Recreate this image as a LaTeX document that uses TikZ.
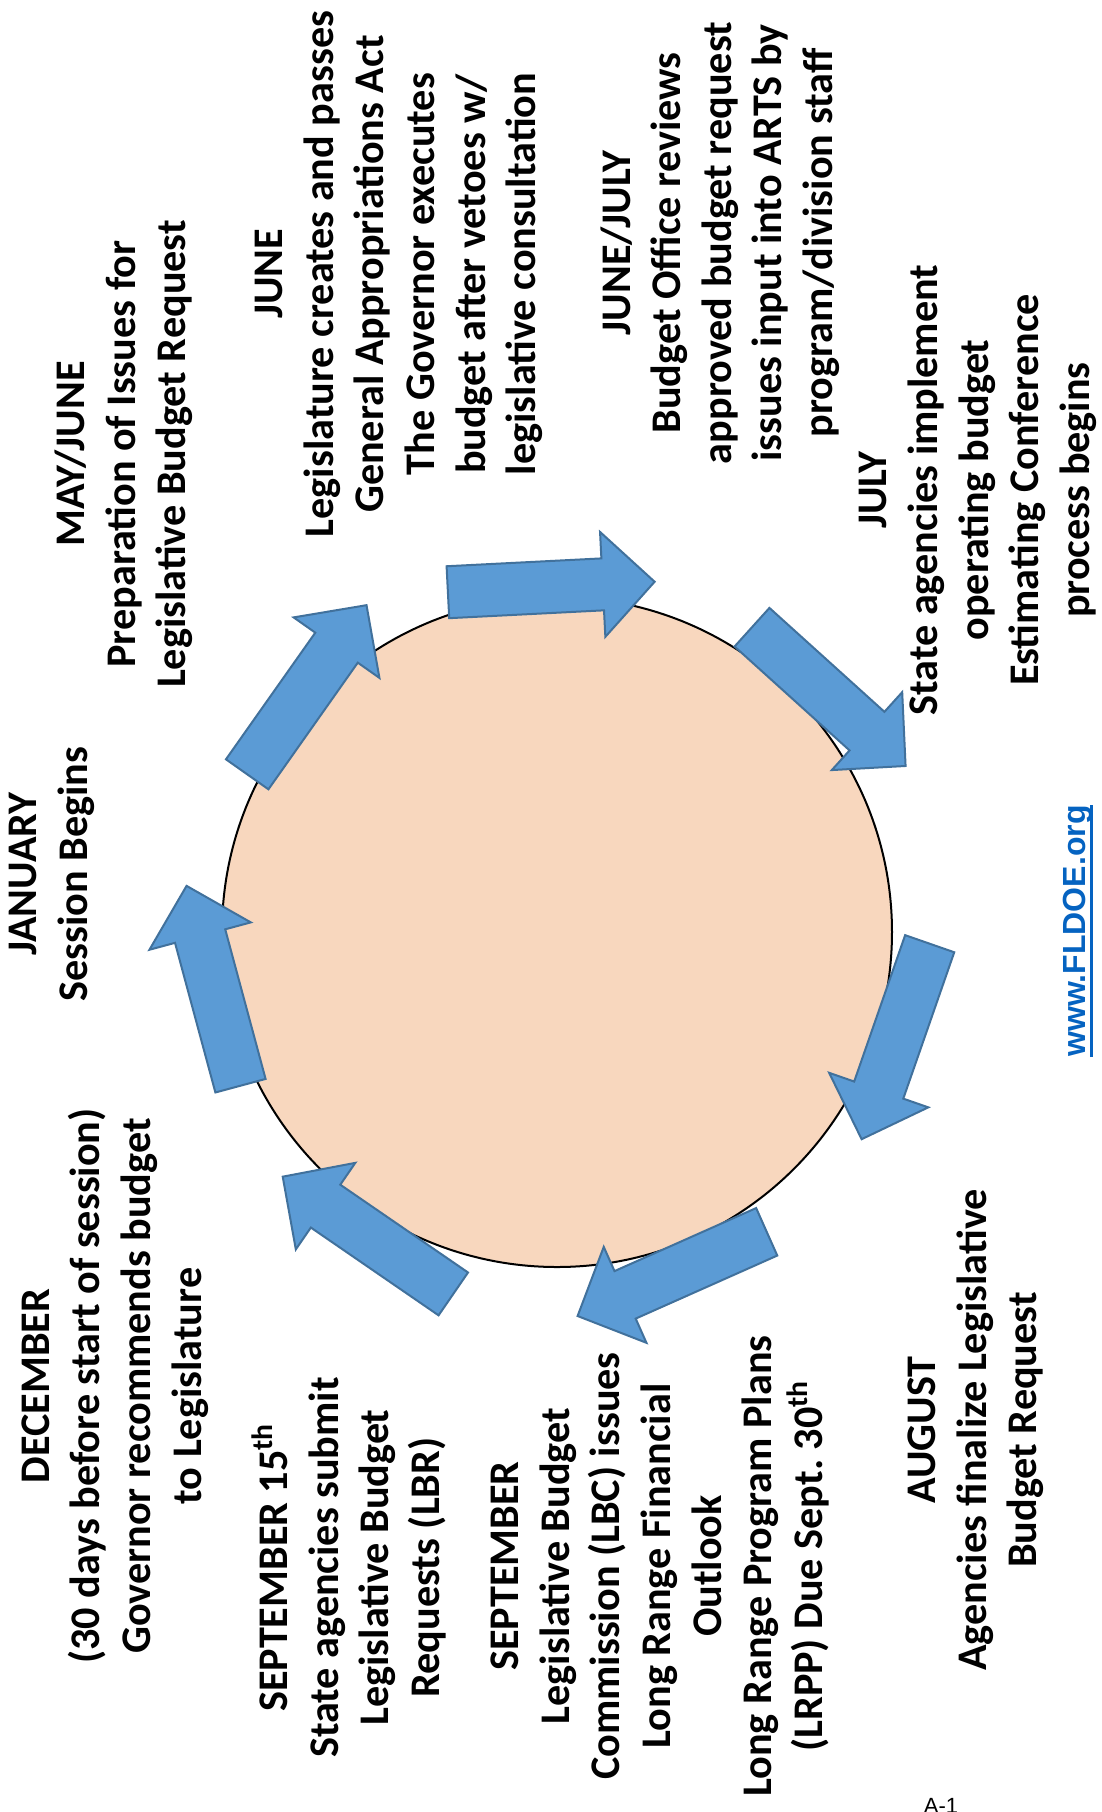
\documentclass[tikz,border=0pt]{standalone}
\usepackage{fontspec}
\setmainfont{Carlito}
\newfontfamily\arialfont{Liberation Sans}
\usetikzlibrary{calc}
\definecolor{arrowfill}{RGB}{91,155,213}
\definecolor{arrowline}{RGB}{65,113,156}
\definecolor{peach}{RGB}{248,215,190}
\definecolor{linkblue}{RGB}{5,99,193}
\frenchspacing
\begin{document}
\begin{tikzpicture}[x=0.5pt,y=0.5pt,
  lbl/.style={rotate=90, align=center, font=\bfseries\fontsize{21.1}{25.3}\selectfont, inner sep=0pt},
  linklbl/.style={rotate=90, inner sep=0pt, text=linkblue, font=\arialfont\bfseries\fontsize{16}{19}\selectfont},
  barrow/.style={fill=arrowfill, draw=arrowline, line width=1pt, line join=miter},
  cyclearrow/.pic={\draw[barrow] (0,-26) -- (155,-26) -- (155,-52.5) -- (207,0) -- (155,52.5) -- (155,26) -- (0,26) -- cycle;}]
\useasboundingbox (0,0) rectangle (1102,-1812);
\fill[white] (0,0) rectangle (1102,-1812);
% central circle
\node[circle, fill=peach, draw=black, line width=1pt, minimum size=335pt, inner sep=0pt] (cyc) at (557,-932) {};
% block arrows, clockwise
\path (240.5,-1085.7) pic[rotate=105.1] (a1) {cyclearrow};
\path (247.2,-774.3) pic[rotate=54.8] (a2) {cyclearrow};
\path (447.9,-592.2) pic[rotate=2.9] (a3) {cyclearrow};
\path (752,-627.2) pic[rotate=-42.1] (a4) {cyclearrow};
\path (929.7,-943.7) pic[rotate=-109.2] (a5) {cyclearrow};
\path (766.7,-1231.8) pic[rotate=-156.0] (a6) {cyclearrow};
\path (453.3,-1293.9) pic[rotate=145.5] (a7) {cyclearrow};
% labels
\node[lbl] (dec) at (115,-1386) {DECEMBER\\(30 days before start of session)\\Governor recommends budget\\to Legislature};
\node[lbl] (jan) at (52,-874) {JANUARY\\Session Begins};
\node[lbl] (may) at (124,-454) {MAY/JUNE\\Preparation of Issues for\\Legislative Budget Request};
\node[lbl] (jun) at (399,-274) {JUNE\\Legislature creates and passes\\General Appropriations Act\\The Governor executes\\budget after vetoes w/\\legislative consultation};
\node[lbl] (junjul) at (720,-243) {JUNE/JULY\\Budget Office reviews\\approved budget request\\issues input into ARTS by\\program/division staff};
\node[lbl] (jul) at (978,-490) {JULY\\State agencies implement\\operating budget\\Estimating Conference\\process begins};
\node[linklbl, anchor=base] (web) at (1085,-931) {www.FLDOE.org};
\draw[linkblue, line width=1.5pt] ($(web.base west)+(6,0)$) -- ($(web.base east)+(6,0)$);
\node[lbl] (sep15) at (349,-1567.5) {SEPTEMBER 15\textsuperscript{th}\\State agencies submit\\Legislative Budget\\Requests (LBR)};
\node[lbl] (sep) at (660,-1566) {SEPTEMBER\\Legislative Budget\\Commission (LBC) issues\\Long Range Financial\\Outlook\\Long Range Program Plans\\(LRPP) Due Sept. 30\textsuperscript{th}};
\node[lbl] (aug) at (976,-1430) {AUGUST\\Agencies finalize Legislative\\Budget Request};
\node[font=\arialfont\fontsize{11}{13}\selectfont, inner sep=0pt] (pg) at (941,-1806) {A-1};
\end{tikzpicture}
\end{document}
